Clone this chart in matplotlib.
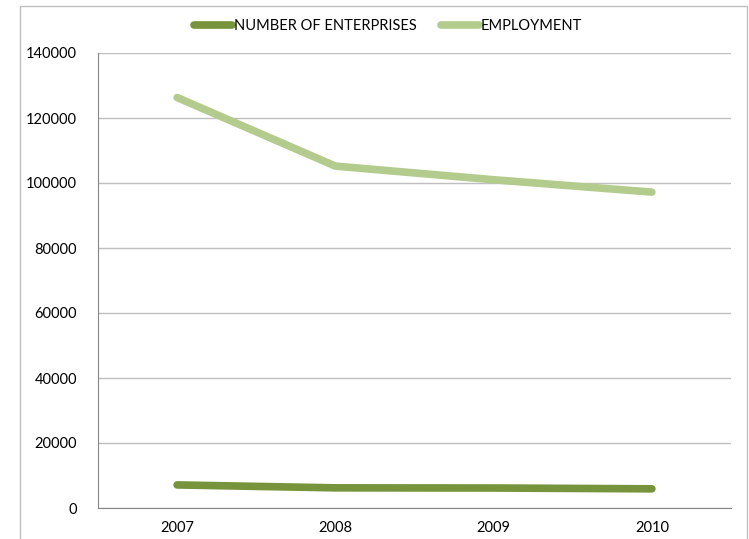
import matplotlib.pyplot as plt
from matplotlib.patches import Rectangle

years = ['2007', '2008', '2009', '2010']
enterprises = [7100, 6200, 6150, 5900]
employment = [126300, 105200, 101000, 97200]

plt.rcParams['font.family'] = ['Lato', 'DejaVu Sans']

fig = plt.figure(figsize=(7.49, 5.39), dpi=100)
ax = fig.add_axes([98/749, 1-508/539, 633/749, 455/539])

x = range(len(years))
ax.plot(x, enterprises, color='#77933C', lw=5.5, solid_capstyle='round',
        label='NUMBER OF ENTERPRISES')
ax.plot(x, employment, color='#B3CC8E', lw=5.5, solid_capstyle='round',
        label='EMPLOYMENT')

ax.set_xlim(-0.5, 3.5)
ax.set_ylim(0, 140000)
ax.set_yticks(range(0, 140001, 20000))
ax.set_xticks(list(x))
ax.set_xticklabels(years)
ax.tick_params(axis='both', length=0, labelsize=10.5, colors='black')
ax.tick_params(axis='y', pad=15)
ax.tick_params(axis='x', pad=9)
ax.grid(axis='y', color='#BFBFBF', lw=1)
ax.set_axisbelow(True)
for s in ['top', 'right']:
    ax.spines[s].set_visible(False)
for s in ['left', 'bottom']:
    ax.spines[s].set_color('#868686')

fig.legend(loc='center', bbox_to_anchor=(388/749, 1-26/539), ncol=2, frameon=False,
           fontsize=10.5, handlelength=2.6, handletextpad=0.1, columnspacing=1.7)

fig.patches.append(Rectangle((20/749, -0.05), 727/749, 1.05-6/539,
                             transform=fig.transFigure, fill=False,
                             edgecolor='#BFBFBF', lw=1))

fig.savefig('out.png', dpi=100)
